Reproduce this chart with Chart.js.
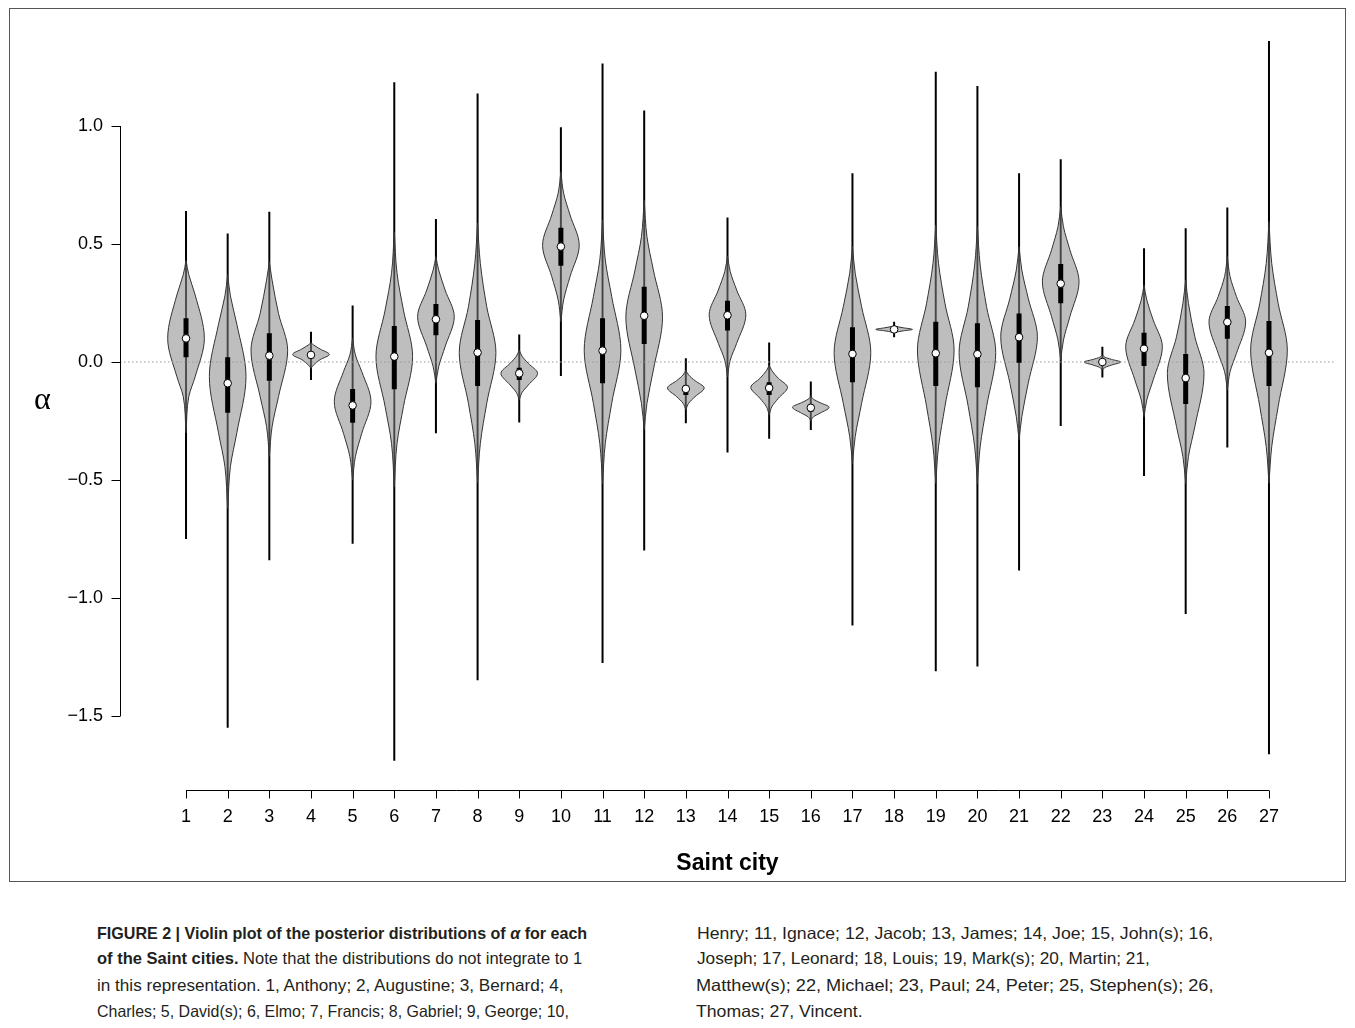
<!DOCTYPE html>
<html>
<head>
<meta charset="utf-8">
<script src="https://cdn.jsdelivr.net/npm/chart.js@4.4.1/dist/chart.umd.min.js"></script>
<style>
  html, body { margin:0; padding:0; background:#fff; }
  body { width:1355px; height:1028px; position:relative; overflow:hidden; font-family:'Liberation Sans', Arial, sans-serif; }
  #frame { position:absolute; left:9px; top:8px; width:1337px; height:874px; border:1px solid #555; box-sizing:border-box; }
  #chart { position:absolute; left:0; top:0; }
  #alpha { position:absolute; left:34px; top:380px; font-size:32px; font-family:'Liberation Serif', serif; }
  .cap { position:absolute; white-space:nowrap; font-size:16.5px; line-height:20px; color:#231f20; transform-origin:0 50%; }
</style>
</head>
<body>
<div id="frame"></div>
<canvas id="chart" width="1355" height="880"></canvas>
<div id="alpha">α</div>

<div class="cap" data-w="490" style="left:97px;top:923px"><b>FIGURE 2 | Violin plot of the posterior distributions of <i>α</i> for each</b></div>
<div class="cap" data-w="485" style="left:97px;top:948px"><b>of the Saint cities.</b> Note that the distributions do not integrate to 1</div>
<div class="cap" data-w="466" style="left:97px;top:975px">in this representation. 1, Anthony; 2, Augustine; 3, Bernard; 4,</div>
<div class="cap" data-w="472" style="left:97px;top:1001px">Charles; 5, David(s); 6, Elmo; 7, Francis; 8, Gabriel; 9, George; 10,</div>
<div class="cap" data-w="516" style="left:697px;top:923px">Henry; 11, Ignace; 12, Jacob; 13, James; 14, Joe; 15, John(s); 16,</div>
<div class="cap" data-w="453" style="left:697px;top:948px">Joseph; 17, Leonard; 18, Louis; 19, Mark(s); 20, Martin; 21,</div>
<div class="cap" data-w="518" style="left:696px;top:975px">Matthew(s); 22, Michael; 23, Paul; 24, Peter; 25, Stephen(s); 26,</div>
<div class="cap" data-w="167" style="left:696px;top:1001px">Thomas; 27, Vincent.</div>

<script>
// saint cities 1..27
const cities = [1,2,3,4,5,6,7,8,9,10,11,12,13,14,15,16,17,18,19,20,21,22,23,24,25,26,27];
const yTicks = [-1.5, -1.0, -0.5, 0.0, 0.5, 1.0];

// thin line = range of the posterior
const whiskerLow  = [-0.75,-1.55,-0.84,-0.076,-0.77,-1.69,-0.302,-1.349,-0.256,-0.059,-1.275,-0.799,-0.26,-0.384,-0.325,-0.288,-1.117,0.105,-1.31,-1.29,-0.883,-0.271,-0.066,-0.483,-1.068,-0.362,-1.662];
const whiskerHigh = [0.64,0.545,0.637,0.128,0.239,1.185,0.606,1.138,0.117,0.995,1.265,1.066,0.016,0.612,0.083,-0.083,0.80,0.171,1.23,1.17,0.80,0.859,0.065,0.482,0.567,0.655,1.36];
// thick bar = interquartile range
const boxLow  = [0.02,-0.215,-0.079,0.015,-0.257,-0.116,0.113,-0.102,-0.076,0.408,-0.09,0.076,-0.14,0.133,-0.14,-0.211,-0.086,0.132,-0.102,-0.107,-0.003,0.249,-0.01,-0.017,-0.178,0.099,-0.102];
const boxHigh = [0.185,0.02,0.122,0.045,-0.114,0.153,0.246,0.178,-0.024,0.569,0.185,0.319,-0.097,0.26,-0.086,-0.182,0.147,0.145,0.171,0.164,0.206,0.415,0.01,0.124,0.034,0.237,0.174];
const medians = [0.10,-0.09,0.027,0.030,-0.184,0.023,0.181,0.04,-0.048,0.489,0.048,0.196,-0.114,0.198,-0.11,-0.194,0.034,0.138,0.037,0.033,0.105,0.332,0.0,0.056,-0.068,0.169,0.039];

// violin outline: alpha where the density width reaches each level
const violinTop    = [0.43,0.37,0.425,0.082,0.10,0.552,0.446,0.588,0.051,0.806,0.602,0.686,-0.034,0.449,-0.013,-0.144,0.489,0.152,0.581,0.574,0.489,0.658,0.030,0.326,0.347,0.446,0.595];
const upper15      = [0.37,0.28,0.347,0.072,0.03,0.376,0.39,0.418,0.025,0.715,0.432,0.531,-0.055,0.383,-0.037,-0.158,0.376,0.150,0.418,0.411,0.39,0.573,0.020,0.263,0.249,0.362,0.418];
const upper50      = [0.284,0.16,0.206,0.055,-0.041,0.22,0.305,0.234,-0.006,0.623,0.277,0.39,-0.079,0.305,-0.069,-0.172,0.234,0.145,0.249,0.234,0.27,0.475,0.011,0.178,0.107,0.277,0.249];
const violinMode   = [0.10,-0.062,0.05,0.032,-0.168,0.023,0.192,0.04,-0.048,0.495,0.05,0.19,-0.11,0.2,-0.107,-0.192,0.04,0.138,0.051,0.04,0.107,0.34,0.0,0.065,-0.048,0.17,0.051];
const lower50      = [-0.062,-0.30,-0.147,0.010,-0.302,-0.189,0.065,-0.175,-0.097,0.362,-0.175,-0.034,-0.147,0.079,-0.154,-0.217,-0.175,0.132,-0.189,-0.189,-0.09,0.192,-0.013,-0.076,-0.274,0.037,-0.189];
const lower15      = [-0.147,-0.443,-0.274,-0.012,-0.401,-0.345,-0.02,-0.345,-0.13,0.263,-0.345,-0.175,-0.175,0.008,-0.189,-0.232,-0.316,0.127,-0.359,-0.359,-0.232,0.093,-0.023,-0.161,-0.401,-0.041,-0.359];
const violinBottom = [-0.30,-0.62,-0.40,-0.027,-0.50,-0.53,-0.09,-0.51,-0.161,0.171,-0.514,-0.288,-0.203,-0.062,-0.225,-0.249,-0.43,0.124,-0.514,-0.514,-0.331,0.008,-0.034,-0.232,-0.514,-0.119,-0.514];
const widthLevels  = [0, 0.15, 0.5, 1];

const HALF = 0.44;               // max half width of a violin, x units
const X_MIN = -0.585, X_MAX = 28.585;
const Y_MIN = -1.8136, Y_MAX = 1.4068;

// one half of a violin, tip to tip; side = +1 right, -1 left
function violinHalf(i, side) {
  const c = cities[i];
  const alphas = [violinTop[i], upper15[i], upper50[i], violinMode[i], lower50[i], lower15[i], violinBottom[i]];
  const levels = [widthLevels[0], widthLevels[1], widthLevels[2], widthLevels[3], widthLevels[2], widthLevels[1], widthLevels[0]];
  return alphas.map((a, k) => ({x: c + side * HALF * levels[k], y: a}));
}

function pairs(lo, hi) {
  const out = [];
  cities.forEach((c, i) => { out.push({x: c, y: lo[i]}, {x: c, y: hi[i]}, {x: c, y: null}); });
  return out;
}

const datasets = [];
datasets.push({
  data: pairs(whiskerLow, whiskerHigh), showLine: true, spanGaps: false,
  borderColor: '#000', borderWidth: 2, pointRadius: 0, order: 5
});
cities.forEach((c, i) => {
  [1, -1].forEach(side => {
    datasets.push({
      data: violinHalf(i, side), showLine: true, fill: 'shape',
      indexAxis: 'y', cubicInterpolationMode: 'monotone',
      backgroundColor: 'rgba(140,140,140,0.57)', borderColor: '#333', borderWidth: 1,
      pointRadius: 0, order: 4
    });
  });
});
datasets.push({
  data: [{x: X_MIN, y: 0}, {x: X_MAX, y: 0}], showLine: true,
  borderColor: '#999', borderWidth: 1, borderDash: [1.5, 2.5], pointRadius: 0, order: 3
});
datasets.push({
  data: pairs(boxLow, boxHigh), showLine: true, spanGaps: false,
  borderColor: '#000', borderWidth: 5, pointRadius: 0, order: 2
});
datasets.push({
  data: cities.map((c, i) => ({x: c, y: medians[i]})), showLine: false,
  pointRadius: 3.8, pointBackgroundColor: '#fff', pointBorderColor: '#000', pointBorderWidth: 1, order: 1
});

// R-style axes: lines only from first to last tick
const axisLines = {
  id: 'axisLines',
  afterDraw(chart) {
    const {ctx, chartArea} = chart;
    const x = chart.scales.x, y = chart.scales.y;
    ctx.save();
    ctx.strokeStyle = '#000';
    ctx.lineWidth = 1;
    ctx.beginPath();
    const yl = Math.round(chartArea.left) + 0.5;
    ctx.moveTo(yl, y.getPixelForValue(yTicks[0]));
    ctx.lineTo(yl, y.getPixelForValue(yTicks[yTicks.length - 1]));
    yTicks.forEach(v => {
      const py = Math.round(y.getPixelForValue(v)) + 0.5;
      ctx.moveTo(yl - 9, py); ctx.lineTo(yl, py);
    });
    const xb = Math.round(chartArea.bottom) + 0.5;
    ctx.moveTo(x.getPixelForValue(cities[0]), xb);
    ctx.lineTo(x.getPixelForValue(cities[cities.length - 1]), xb);
    cities.forEach(v => {
      const px = Math.round(x.getPixelForValue(v)) + 0.5;
      ctx.moveTo(px, xb); ctx.lineTo(px, xb + 8);
    });
    ctx.stroke();
    ctx.restore();
  }
};

Chart.defaults.font.family = "'Liberation Sans', Arial, sans-serif";
Chart.defaults.color = '#000';

new Chart(document.getElementById('chart'), {
  type: 'scatter',
  data: {datasets: datasets},
  options: {
    responsive: false,
    animation: false,
    devicePixelRatio: 1,
    layout: {padding: {top: 30, right: 20, left: 0, bottom: 0}},
    plugins: {legend: {display: false}, tooltip: {enabled: false}},
    scales: {
      x: {
        type: 'linear', min: X_MIN, max: X_MAX,
        grid: {display: false, drawTicks: false}, border: {display: false},
        afterBuildTicks: ax => { ax.ticks = cities.map(v => ({value: v})); },
        afterFit: ax => { ax.height = 90; },
        ticks: {autoSkip: false, maxRotation: 0, padding: 16, font: {size: 18}, callback: v => String(v)},
        title: {display: true, text: 'Saint city', font: {size: 23, weight: 'bold'}, padding: {top: 4, bottom: 3}}
      },
      y: {
        type: 'linear', min: Y_MIN, max: Y_MAX,
        grid: {display: false, drawTicks: false}, border: {display: false},
        afterBuildTicks: ax => { ax.ticks = yTicks.map(v => ({value: v})); },
        afterFit: ax => { ax.width = 120; },
        ticks: {padding: 17, font: {size: 18}, callback: v => (v < 0 ? '\u2212' : '') + Math.abs(v).toFixed(1)}
      }
    }
  },
  plugins: [axisLines]
});

// squeeze caption lines to the widths of the condensed original face
document.querySelectorAll('.cap').forEach(el => {
  const w = el.offsetWidth;
  el.style.transform = 'scaleX(' + (Number(el.dataset.w) / w) + ')';
});
</script>
</body>
</html>
